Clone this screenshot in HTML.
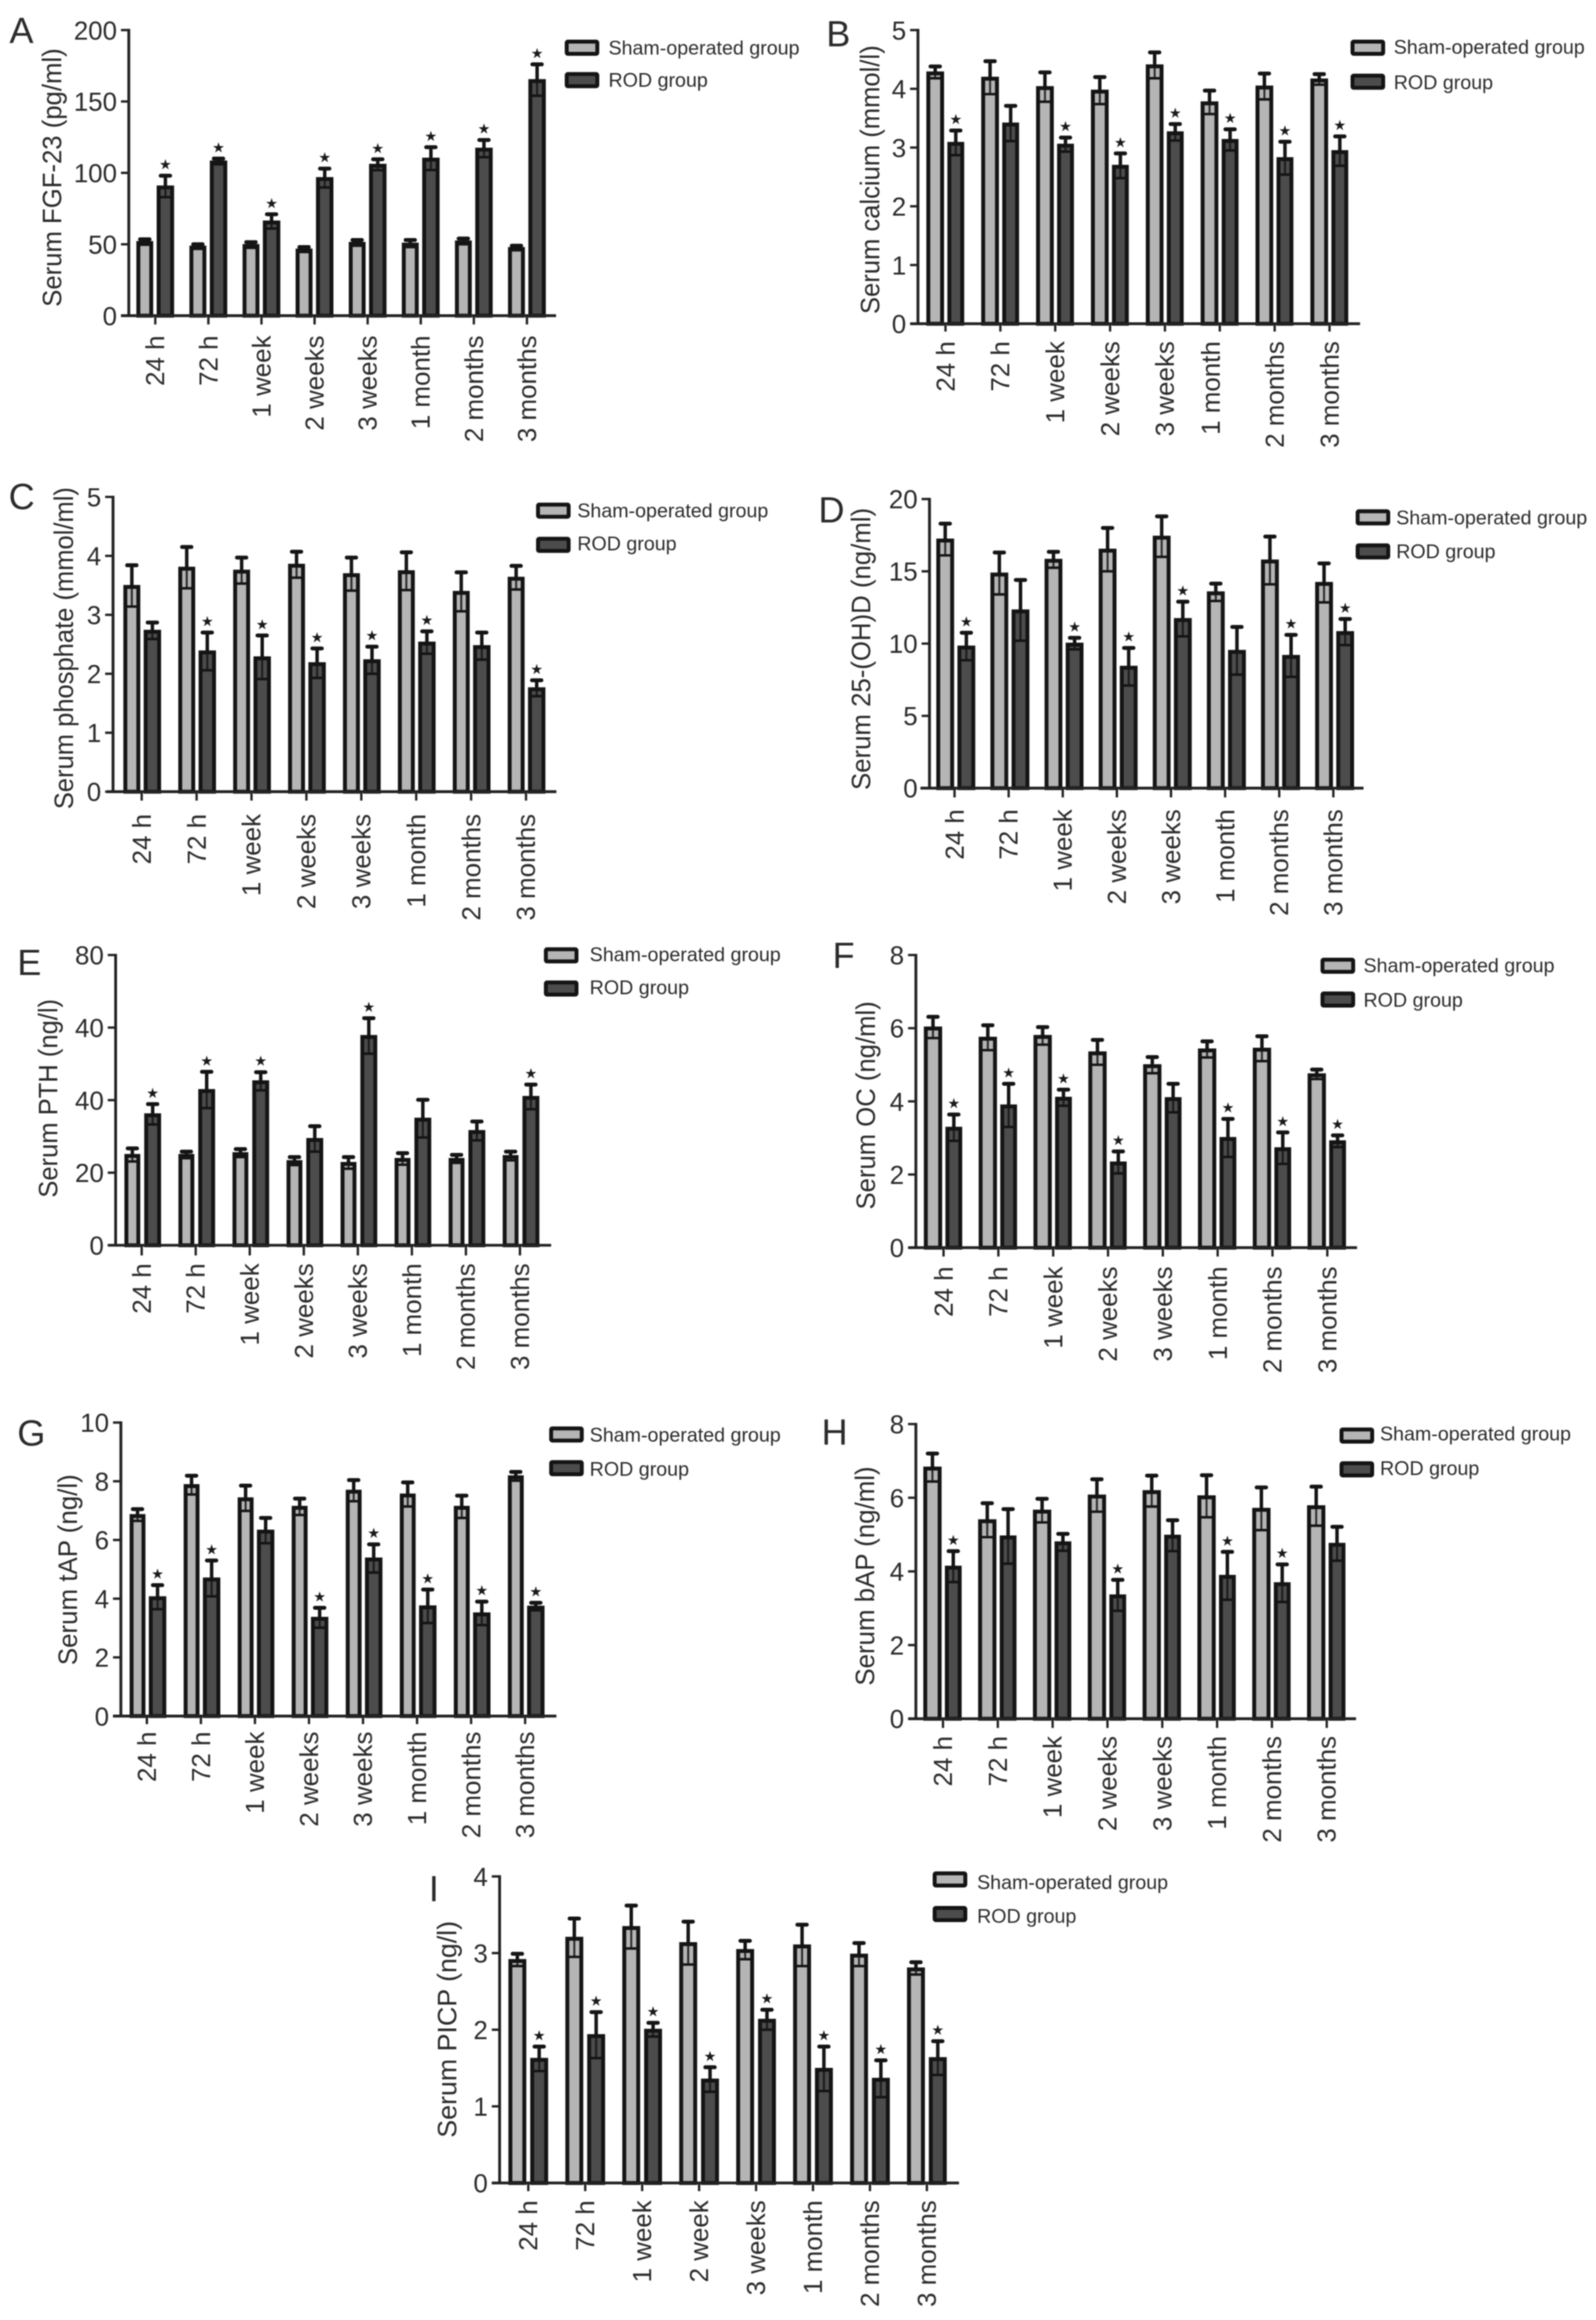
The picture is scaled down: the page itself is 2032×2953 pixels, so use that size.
<!DOCTYPE html>
<html lang="en">
<head>
<meta charset="utf-8">
<title>Serum markers in sham-operated and ROD groups</title>
<style>
  html, body { margin: 0; padding: 0; background: #ffffff; }
  #figure { display: block; width: 2032px; height: 2953px; filter: blur(0.7px); }
  text { font-family: "Liberation Sans", Arial, sans-serif; fill: #2b2b2b; }
  .star { font-family: "DejaVu Sans", sans-serif; fill: #1a1a1a; }
</style>
</head>
<body>
<svg id="figure" xmlns="http://www.w3.org/2000/svg" width="2032" height="2953" viewBox="0 0 2032 2953"></svg>
<script>
// ---------- shared categories ----------
const categories = ['24 h', '72 h', '1 week', '2 weeks', '3 weeks', '1 month', '2 months', '3 months'];
const categoriesI = ['24 h', '72 h', '1 week', '2 week', '3 weeks', '1 month', '2 months', '3 months'];
const legendLabels = ['Sham-operated group', 'ROD group'];

// ---------- panel A ----------
const ticksA = [0, 50, 100, 150, 200];
const tickLabelsA = ['0', '50', '100', '150', '200'];
const shamA = [51.6, 48.4, 49.5, 46.3, 51, 50.5, 52, 47.4];
const shamUpperA = [53.5, 50, 51.5, 48, 53, 53, 54, 49];
const rodA = [90.5, 108, 66, 96.4, 105.7, 110, 117, 165];
const rodUpperA = [98, 110, 71, 103, 109.5, 118, 123, 176];
const starsA = [1, 1, 1, 1, 1, 1, 1, 1];

// ---------- panel B ----------
const ticksB = [0, 1, 2, 3, 4, 5];
const tickLabelsB = ['0', '1', '2', '3', '4', '5'];
const shamB = [4.28, 4.19, 4.03, 3.97, 4.4, 3.77, 4.04, 4.16];
const shamUpperB = [4.38, 4.47, 4.28, 4.2, 4.62, 3.97, 4.26, 4.25];
const rodB = [3.08, 3.41, 3.05, 2.69, 3.26, 3.13, 2.82, 2.94];
const rodUpperB = [3.29, 3.71, 3.17, 2.9, 3.4, 3.31, 3.1, 3.19];
const starsB = [1, 0, 1, 1, 1, 1, 1, 1];

// ---------- panel C ----------
const ticksC = [0, 1, 2, 3, 4, 5];
const tickLabelsC = ['0', '1', '2', '3', '4', '5'];
const shamC = [3.49, 3.8, 3.75, 3.85, 3.69, 3.74, 3.39, 3.63];
const shamUpperC = [3.84, 4.15, 3.97, 4.07, 3.97, 4.06, 3.72, 3.83];
const rodC = [2.73, 2.38, 2.28, 2.18, 2.23, 2.53, 2.47, 1.755];
const rodUpperC = [2.87, 2.7, 2.65, 2.43, 2.46, 2.72, 2.7, 1.89];
const starsC = [0, 1, 1, 1, 1, 1, 0, 1];

// ---------- panel D ----------
const ticksD = [0, 5, 10, 15, 20];
const tickLabelsD = ['0', '5', '10', '15', '20'];
const shamD = [17.2, 14.85, 15.8, 16.5, 17.4, 13.55, 15.75, 14.2];
const shamUpperD = [18.3, 16.3, 16.35, 18, 18.8, 14.15, 17.4, 15.55];
const rodD = [9.8, 12.3, 10, 8.4, 11.7, 9.5, 9.15, 10.8];
const rodUpperD = [10.75, 14.4, 10.4, 9.7, 12.9, 11.15, 10.6, 11.7];
const starsD = [1, 0, 1, 1, 1, 0, 1, 1];

// ---------- panel E ----------
const ticksE = [0, 20, 40, 60, 80];
const tickLabelsE = ['0', '20', '40', '40', '80'];
const shamE = [24.9, 24.9, 25.4, 23.2, 22.7, 23.8, 23.8, 24.6];
const shamUpperE = [26.7, 25.8, 26.5, 24.3, 24.3, 25.4, 24.9, 25.8];
const rodE = [36.1, 42.8, 45.2, 29.3, 57.7, 34.9, 31.5, 40.9];
const rodUpperE = [38.9, 47.8, 47.7, 32.8, 62.6, 40.1, 34.1, 44.3];
const starsE = [1, 1, 1, 0, 1, 0, 0, 1];

// ---------- panel F ----------
const ticksF = [0, 2, 4, 6, 8];
const tickLabelsF = ['0', '2', '4', '6', '8'];
const shamF = [6.02, 5.74, 5.79, 5.34, 4.99, 5.42, 5.44, 4.74];
const shamUpperF = [6.31, 6.08, 6.03, 5.68, 5.21, 5.64, 5.78, 4.87];
const rodF = [3.28, 3.89, 4.1, 2.33, 4.09, 3, 2.72, 2.91];
const rodUpperF = [3.64, 4.48, 4.32, 2.63, 4.48, 3.52, 3.15, 3.07];
const starsF = [1, 1, 1, 1, 0, 1, 1, 1];

// ---------- panel G ----------
const ticksG = [0, 2, 4, 6, 8, 10];
const tickLabelsG = ['0', '2', '4', '6', '8', '10'];
const shamG = [6.85, 7.87, 7.42, 7.13, 7.68, 7.55, 7.13, 8.17];
const shamUpperG = [7.05, 8.19, 7.85, 7.41, 8.04, 7.96, 7.51, 8.32];
const rodG = [4.05, 4.69, 6.32, 3.35, 5.37, 3.74, 3.5, 3.73];
const rodUpperG = [4.46, 5.3, 6.75, 3.69, 5.85, 4.31, 3.9, 3.86];
const starsG = [1, 1, 0, 1, 1, 1, 1, 1];

// ---------- panel H ----------
const ticksH = [0, 2, 4, 6, 8];
const tickLabelsH = ['0', '2', '4', '6', '8'];
const shamH = [6.82, 5.39, 5.65, 6.06, 6.18, 6.04, 5.7, 5.77];
const shamUpperH = [7.2, 5.85, 5.97, 6.5, 6.6, 6.61, 6.28, 6.3];
const rodH = [4.13, 4.95, 4.79, 3.35, 4.97, 3.88, 3.68, 4.75];
const rodUpperH = [4.55, 5.69, 5.02, 3.77, 5.39, 4.53, 4.19, 5.21];
const starsH = [1, 0, 0, 1, 0, 1, 1, 0];

// ---------- panel I ----------
const ticksI = [0, 1, 2, 3, 4];
const tickLabelsI = ['0', '1', '2', '3', '4'];
const shamI = [2.91, 3.2, 3.34, 3.13, 3.04, 3.1, 2.98, 2.8];
const shamUpperI = [2.99, 3.45, 3.62, 3.41, 3.16, 3.37, 3.13, 2.88];
const rodI = [1.62, 1.93, 2, 1.35, 2.13, 1.49, 1.36, 1.63];
const rodUpperI = [1.78, 2.23, 2.09, 1.51, 2.26, 1.78, 1.6, 1.85];
const starsI = [1, 1, 1, 1, 1, 1, 1, 1];

// ---------- panel wiring: data references ----------
const panelData = {
  A: { cats: categories, ticks: ticksA, labels: tickLabelsA, sham: shamA, shamUp: shamUpperA, rod: rodA, rodUp: rodUpperA, stars: starsA, title: 'Serum FGF-23 (pg/ml)' },
  B: { cats: categories, ticks: ticksB, labels: tickLabelsB, sham: shamB, shamUp: shamUpperB, rod: rodB, rodUp: rodUpperB, stars: starsB, title: 'Serum calcium (mmol/l)' },
  C: { cats: categories, ticks: ticksC, labels: tickLabelsC, sham: shamC, shamUp: shamUpperC, rod: rodC, rodUp: rodUpperC, stars: starsC, title: 'Serum phosphate (mmol/ml)' },
  D: { cats: categories, ticks: ticksD, labels: tickLabelsD, sham: shamD, shamUp: shamUpperD, rod: rodD, rodUp: rodUpperD, stars: starsD, title: 'Serum 25-(OH)D (ng/ml)' },
  E: { cats: categories, ticks: ticksE, labels: tickLabelsE, sham: shamE, shamUp: shamUpperE, rod: rodE, rodUp: rodUpperE, stars: starsE, title: 'Serum PTH (ng/l)' },
  F: { cats: categories, ticks: ticksF, labels: tickLabelsF, sham: shamF, shamUp: shamUpperF, rod: rodF, rodUp: rodUpperF, stars: starsF, title: 'Serum OC (ng/ml)' },
  G: { cats: categories, ticks: ticksG, labels: tickLabelsG, sham: shamG, shamUp: shamUpperG, rod: rodG, rodUp: rodUpperG, stars: starsG, title: 'Serum tAP (ng/l)' },
  H: { cats: categories, ticks: ticksH, labels: tickLabelsH, sham: shamH, shamUp: shamUpperH, rod: rodH, rodUp: rodUpperH, stars: starsH, title: 'Serum bAP (ng/ml)' },
  I: { cats: categoriesI, ticks: ticksI, labels: tickLabelsI, sham: shamI, shamUp: shamUpperI, rod: rodI, rodUp: rodUpperI, stars: starsI, title: 'Serum PICP (ng/l)' }
};

// ---------- panel layout (pixel geometry only) ----------
const panelLayout = {
  A: { ax: 164, yTop: 38.3, y0: 401.8, bx0: 154, bx1: 708, t0: 197.7, dt: 67.6, bars: [-24.1, -2.6, 1.8, 24], tickB: 413, lblTop: 427, titleX: 78, titleY: 226, titleLen: 329, letX: 12, letY: 55, legX: 719, legY: [50.5, 91.8], legT: 774.7, legC: [61, 102] },
  B: { ax: 1168.7, yTop: 38.3, y0: 412.1, bx0: 1159, bx1: 1731.6, t0: 1203.8, dt: 69.85, bars: [-24.4, -1.8, 2.4, 23.8], tickB: 422, lblTop: 434.3, titleX: 1119.5, titleY: 228.7, titleLen: 342, letX: 1052, letY: 59, legX: 1719.5, legY: [50.5, 93.8], legT: 1774.5, legC: [60, 105], shift: { 5: -11.5 } },
  C: { ax: 143.9, yTop: 632.5, y0: 1007.7, bx0: 136, bx1: 708.4, t0: 180.4, dt: 69.9, bars: [-23.3, -1.8, 2.5, 24.7], tickB: 1019, lblTop: 1036, titleX: 93, titleY: 825, titleLen: 410, letX: 11, letY: 648, legX: 682.5, legY: [639.7, 683.3], legT: 735, legC: [650, 692] },
  D: { ax: 1183.4, yTop: 635.2, y0: 1003.2, bx0: 1171.9, bx1: 1736, t0: 1215.3, dt: 68.9, bars: [-23.2, -0.5, 3.7, 26.4], tickB: 1015, lblTop: 1030, titleX: 1108, titleY: 826, titleLen: 359, letX: 1042, letY: 665, legX: 1726, legY: [648.3, 691.6], legT: 1777.6, legC: [659, 702] },
  E: { ax: 147.2, yTop: 1215.6, y0: 1585, bx0: 137.3, bx1: 701.7, t0: 180.4, dt: 68.8, bars: [-22, -1.8, 3.2, 24.7], tickB: 1598, lblTop: 1608, titleX: 73, titleY: 1398, titleLen: 253, letX: 22, letY: 1241, legX: 692.5, legY: [1205.8, 1248], legT: 750.8, legC: [1215, 1257] },
  F: { ax: 1166.1, yTop: 1215.6, y0: 1588.1, bx0: 1156.5, bx1: 1727.8, t0: 1201.3, dt: 69.8, bars: [-25.1, -1.8, 2.4, 23.8], tickB: 1599.4, lblTop: 1612, titleX: 1114, titleY: 1407, titleLen: 265, letX: 1060, letY: 1232, legX: 1681.3, legY: [1219, 1262], legT: 1736, legC: [1229, 1273] },
  G: { ax: 153.9, yTop: 1810.7, y0: 2184.3, bx0: 143.9, bx1: 708.4, t0: 187, dt: 68.8, bars: [-22, -1.8, 2.5, 24.7], tickB: 2194.5, lblTop: 2204, titleX: 98, titleY: 1998, titleLen: 243, letX: 22, letY: 1840, legX: 699.2, legY: [1815.6, 1858.5], legT: 750.8, legC: [1826.5, 1870] },
  H: { ax: 1166.1, yTop: 1812.6, y0: 2187.7, bx0: 1156.5, bx1: 1726.5, t0: 1200.6, dt: 69.8, bars: [-25.1, -1.8, 2.4, 23.8], tickB: 2199.4, lblTop: 2209.6, titleX: 1113, titleY: 2006, titleLen: 279, letX: 1046, letY: 1839, legX: 1705.5, legY: [1817, 1860], legT: 1757, legC: [1825, 1869] },
  I: { ax: 636.1, yTop: 2388.4, y0: 2778.6, bx0: 626.1, bx1: 1221, t0: 672.6, dt: 72.5, bars: [-25.3, -2.5, 2.5, 25.3], tickB: 2789, lblTop: 2800.6, titleX: 581, titleY: 2583, titleLen: 276, letX: 546, letY: 2420, legX: 1187.5, legY: [2382, 2426], legT: 1244, legC: [2396, 2439] }
};

const SVG_NS = 'http://www.w3.org/2000/svg';
const svg = document.getElementById('figure');
const INK = '#141414';
const SHAM_FILL = '#b5b5b5';
const ROD_FILL = '#4c4c4c';
const BAR_STROKE = 5;
const TOP_NUDGE = 1.2;

function make(tag, attrs, parent, content) {
  const node = document.createElementNS(SVG_NS, tag);
  Object.keys(attrs).forEach(function (k) { node.setAttribute(k, attrs[k]); });
  if (content !== undefined) node.textContent = content;
  parent.appendChild(node);
  return node;
}

function yScale(layout, maxValue) {
  return function (v) { return layout.y0 - (v / maxValue) * (layout.y0 - layout.yTop); };
}

function xScale(layout) {
  return function (i) { return layout.t0 + i * layout.dt; };
}

function drawBar(group, seriesName, fill, left, right, yTopPx, y0) {
  const top = yTopPx - TOP_NUDGE;
  const bar = make('rect', {
    x: left + BAR_STROKE / 2,
    y: top + BAR_STROKE / 2,
    width: right - left - BAR_STROKE,
    height: y0 - top - BAR_STROKE / 2,
    fill: fill,
    stroke: INK,
    'stroke-width': BAR_STROKE
  }, group);
  
  
}

function drawError(group, seriesName, left, right, yVal, yUp, yLow) {
  const cx = (left + right) / 2;
  const err = make('g', { stroke: INK, fill: 'none' }, group);
  
  
  make('line', { x1: cx, x2: cx, y1: yUp, y2: yVal + 2, 'stroke-width': 4.4 }, err);
  make('line', { x1: cx, x2: cx, y1: yVal, y2: yLow, 'stroke-width': 2.6, opacity: 0.85 }, err);
  make('line', { x1: cx - 6, x2: cx + 6, y1: yUp, y2: yUp, 'stroke-width': 5, 'stroke-linecap': 'round' }, err);
  make('line', { x1: left + 3, x2: right - 3, y1: yLow, y2: yLow, 'stroke-width': 3.2 }, err);
}

function drawPanel(key) {
  const d = panelData[key];
  const l = panelLayout[key];
  const x = xScale(l);
  const y = yScale(l, d.ticks[d.ticks.length - 1]);

  const panel = make('g', {}, svg);
  
  

  const letter = make('text', { x: l.letX, y: l.letY, 'font-size': 46, fill: '#111' }, panel, key);
  
  

  const yTitle = make('text', {
    transform: 'translate(' + l.titleX + ',' + l.titleY + ') rotate(-90)',
    'text-anchor': 'middle',
    'font-size': 34,
    textLength: l.titleLen,
    lengthAdjust: 'spacingAndGlyphs'
  }, panel, d.title);
  
  

  // bars and error bars
  d.cats.forEach(function (cat, i) {
    const cx = x(i);
    const group = make('g', {}, panel);
    
    

    const sL = cx + l.bars[0], sR = cx + l.bars[1];
    const rL = cx + l.bars[2], rR = cx + l.bars[3];

    drawBar(group, 'sham', SHAM_FILL, sL, sR, y(d.sham[i]), l.y0);
    drawError(group, 'sham', sL, sR, y(d.sham[i]), y(d.shamUp[i]), y(2 * d.sham[i] - d.shamUp[i]));

    drawBar(group, 'rod', ROD_FILL, rL, rR, y(d.rod[i]), l.y0);
    drawError(group, 'rod', rL, rR, y(d.rod[i]), y(d.rodUp[i]), y(2 * d.rod[i] - d.rodUp[i]));

    if (d.stars[i]) {
      const star = make('text', {
        'class': 'star',
        x: (rL + rR) / 2,
        y: y(d.rodUp[i]) - 8,
        'text-anchor': 'middle',
        'font-size': 18
      }, group, '★');
      
      
    }
  });

  // axes
  const yAxis = make('line', { x1: l.ax, x2: l.ax, y1: y(d.ticks[d.ticks.length - 1]) - 1.5, y2: l.y0, stroke: '#222', 'stroke-width': 3.6 }, panel);
  
  

  const xAxis = make('line', { x1: l.bx0, x2: l.bx1, y1: l.y0, y2: l.y0, stroke: '#222', 'stroke-width': 3.6 }, panel);
  
  

  d.ticks.forEach(function (t, i) {
    const tick = make('line', { x1: l.ax - 10, x2: l.ax, y1: y(t), y2: y(t), stroke: '#222', 'stroke-width': 3 }, panel);
    
    

    const lbl = make('text', { x: l.ax - 15, y: y(t) + 12, 'text-anchor': 'end', 'font-size': 33 }, panel, d.labels[i]);
    
    
  });

  d.cats.forEach(function (cat, i) {
    const cx = x(i);
    const tick = make('line', { x1: cx, x2: cx, y1: l.y0, y2: l.tickB, stroke: '#222', 'stroke-width': 3 }, panel);
    
    

    const shift = (l.shift && l.shift[i]) || 0;
    const lbl = make('text', {
      transform: 'translate(' + (cx + 11.5 + shift) + ',' + l.lblTop + ') rotate(-90)',
      'text-anchor': 'end',
      'font-size': 33
    }, panel, cat);
    
    
  });

  // legend
  const legend = make('g', {}, panel);
  
  

  legendLabels.forEach(function (label, i) {
    const entry = make('g', {}, legend);
    
    

    const swatch = make('rect', {
      x: l.legX + 2.5,
      y: l.legY[i] + 2.5,
      width: 39,
      height: 15.5,
      rx: 1.5,
      fill: i === 0 ? SHAM_FILL : ROD_FILL,
      stroke: INK,
      'stroke-width': 5
    }, entry);
    
    

    const txt = make('text', { x: l.legT, y: l.legC[i] + 8.5, 'font-size': 25 }, entry, label);
    
    
  });
}

Object.keys(panelData).forEach(drawPanel);
</script>
</body>
</html>
